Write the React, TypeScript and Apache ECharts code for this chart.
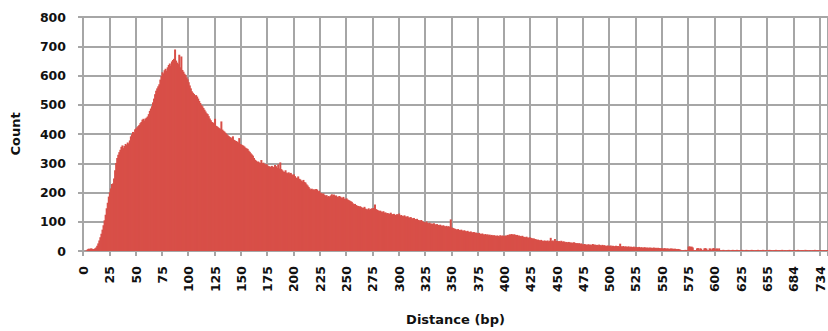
import React, { useEffect, useRef } from "react";
import * as echarts from "echarts";

// Distances 0..625 are contiguous; beyond that only observed distances appear as categories.
const contiguousMax = 625;
const tailDistances = [
  626, 627, 628, 629, 630, 632, 633, 634, 635, 636, 638, 639, 640, 641, 643, 644, 645, 647, 648, 649, 650, 652, 653, 654, 655,
  656, 657, 658, 660, 661, 662, 663, 664, 665, 667, 668, 669, 670, 671, 673, 674, 675, 676, 677, 678, 680, 681, 682, 683, 684,
  686, 688, 690, 691, 693, 695, 697, 699, 700, 702, 704, 706, 709, 711, 713, 715, 717, 720, 722, 724, 726, 728, 730, 732, 734,
  737, 741, 746, 752, 759, 768, 781,
];

const counts = [
  0, 0, 1, 2, 6, 8, 7, 9, 8, 6, 7, 9, 12, 18, 26, 36, 47, 59, 73, 88,
  105, 124, 146, 165, 186, 201, 214, 229, 231, 248, 276, 301, 318, 329, 338, 346, 356, 361, 352, 359,
  366, 362, 371, 367, 378, 392, 399, 407, 403, 416, 419, 423, 427, 431, 437, 441, 449, 452, 446, 453,
  456, 460, 468, 479, 487, 495, 508, 521, 536, 548, 556, 563, 570, 586, 598, 611, 607, 618, 623, 616,
  628, 636, 641, 633, 648, 653, 657, 689, 651, 644, 639, 671, 628, 665, 619, 613, 606, 602, 594, 587,
  577, 566, 556, 546, 541, 537, 531, 533, 528, 521, 513, 506, 499, 495, 489, 483, 477, 471, 468, 461,
  453, 447, 441, 439, 436, 452, 428, 426, 423, 420, 418, 443, 415, 411, 408, 404, 400, 396, 393, 390,
  388, 385, 392, 380, 378, 376, 374, 371, 386, 366, 364, 362, 360, 357, 353, 351, 349, 343, 339, 334,
  330, 326, 318, 312, 309, 305, 306, 303, 301, 311, 300, 302, 298, 295, 297, 292, 290, 289, 287, 291,
  288, 286, 294, 290, 284, 296, 282, 303, 280, 276, 272, 270, 276, 268, 266, 269, 265, 267, 262, 259,
  262, 256, 251, 249, 255, 247, 245, 241, 238, 243, 236, 234, 228, 224, 219, 214, 210, 213, 209, 211,
  208, 212, 210, 204, 206, 200, 198, 195, 197, 192, 189, 191, 186, 188, 185, 190, 194, 189, 193, 188,
  190, 186, 184, 188, 186, 183, 181, 185, 179, 177, 180, 176, 174, 172, 170, 168, 163, 159, 161, 157,
  155, 154, 152, 153, 150, 148, 147, 151, 145, 143, 142, 146, 141, 144, 146, 145, 147, 159, 143, 141,
  139, 137, 138, 135, 133, 136, 131, 132, 129, 130, 128, 127, 131, 126, 125, 127, 124, 123, 126, 122,
  128, 121, 123, 120, 119, 122, 118, 117, 119, 115, 114, 116, 112, 111, 113, 109, 108, 110, 106, 105,
  104, 106, 102, 100, 99, 97, 101, 96, 95, 97, 93, 94, 92, 95, 91, 90, 92, 89, 88, 90,
  87, 86, 88, 85, 84, 86, 83, 85, 82, 108, 80, 79, 77, 76, 74, 73, 75, 72, 71, 73,
  70, 69, 71, 68, 67, 69, 66, 65, 67, 64, 63, 65, 62, 63, 61, 60, 62, 59, 58, 60,
  57, 56, 58, 55, 57, 54, 56, 53, 55, 52, 54, 53, 51, 53, 52, 50, 54, 51, 53, 52,
  51, 53, 52, 55, 54, 57, 56, 58, 55, 57, 56, 54, 55, 52, 53, 51, 50, 52, 49, 48,
  47, 49, 46, 45, 47, 45, 44, 42, 43, 41, 40, 38, 39, 37, 36, 38, 35, 34, 36, 35,
  34, 36, 33, 35, 45, 34, 36, 33, 41, 34, 35, 33, 34, 32, 35, 31, 33, 32, 30, 31,
  29, 31, 30, 28, 29, 27, 30, 28, 26, 27, 25, 27, 24, 26, 23, 22, 24, 23, 21, 22,
  23, 21, 22, 20, 24, 21, 22, 20, 21, 19, 22, 20, 18, 21, 19, 20, 18, 17, 19, 18,
  17, 19, 16, 18, 17, 15, 18, 16, 17, 15, 25, 16, 15, 17, 14, 16, 15, 14, 16, 13,
  15, 14, 13, 15, 12, 14, 13, 12, 14, 11, 13, 12, 11, 13, 12, 11, 12, 10, 12, 11,
  11, 10, 12, 10, 11, 9, 11, 10, 9, 10, 9, 8, 10, 9, 8, 9, 8, 7, 9, 8,
  8, 7, 8, 7, 6, 7, 6, 5, 3, 2, 3, 2, 4, 3, 3, 15, 16, 14, 15, 12,
  3, 2, 3, 9, 10, 3, 9, 8, 2, 3, 9, 10, 8, 2, 3, 9, 8, 3, 9, 10,
  8, 3, 9, 2, 9, 3, 2, 3, 4, 3, 2, 3, 3, 4, 3, 2, 3, 4, 3, 3,
  3, 4, 3, 2, 3, 3, 4, 3, 2, 3, 4, 3, 3, 2, 3, 4, 3, 3, 2, 3,
  3, 4, 2, 3, 3, 3, 4, 2, 3, 3, 2, 3, 4, 3, 3, 2, 3, 3, 4, 3,
  2, 3, 3, 3, 4, 2, 3, 3, 2, 3, 3, 4, 3, 2, 3, 3, 3, 2, 3, 4,
  3, 2, 3, 3, 3, 2, 4, 3, 3, 2, 3, 3, 2, 3, 3, 4, 2, 3, 3, 2,
  3, 3, 2, 3, 3, 2, 3, 3,
];

const yTicks = { min: 0, max: 800, interval: 100 };

const categories: string[] = [];
for (let d = 0; d <= contiguousMax; d++) categories.push(String(d));
tailDistances.forEach((d) => categories.push(String(d)));

const FONT = "'DejaVu Sans', Verdana, sans-serif";
const GRID = "#a6a6a6";
const TEXT = "#111111";
const BAR = "#d84f48";

export default function App() {
  const ref = useRef<HTMLDivElement>(null);
  useEffect(() => {
    if (!ref.current) return;
    const chart = echarts.init(ref.current, null, { renderer: "svg" });
    chart.setOption({
      animation: false,
      backgroundColor: "#ffffff",
      grid: { left: 83, right: 0, top: 17, bottom: 80, containLabel: false },
      xAxis: {
        type: "category",
        data: categories,
        boundaryGap: true,
        name: "Distance (bp)",
        nameLocation: "middle",
        nameGap: 62,
        nameTextStyle: { fontFamily: FONT, fontWeight: "bold", fontSize: 13, color: TEXT },
        axisLine: { show: true, lineStyle: { color: GRID, width: 2 } },
        axisTick: { show: true, interval: 24, length: 5, lineStyle: { color: GRID, width: 2 } },
        axisLabel: {
          interval: 24,
          rotate: 90,
          margin: 15,
          fontFamily: FONT,
          fontWeight: "bold",
          fontSize: 12.5,
          color: TEXT,
        },
        splitLine: { show: true, interval: 24, lineStyle: { color: GRID, width: 2 } },
      },
      yAxis: {
        type: "value",
        min: yTicks.min,
        max: yTicks.max,
        interval: yTicks.interval,
        name: "Count",
        nameLocation: "middle",
        nameRotate: 90,
        nameGap: 61,
        nameTextStyle: { fontFamily: FONT, fontWeight: "bold", fontSize: 13, color: TEXT },
        axisLine: { show: true, lineStyle: { color: GRID, width: 2 } },
        axisTick: { show: true, length: 5, lineStyle: { color: GRID, width: 2 } },
        axisLabel: { margin: 17, fontFamily: FONT, fontWeight: "bold", fontSize: 12.5, color: TEXT },
        splitLine: { show: true, lineStyle: { color: GRID, width: 2 } },
      },
      series: [
        {
          type: "bar",
          data: counts,
          barWidth: 2,
          barGap: "0%",
          itemStyle: { color: BAR },
          silent: true,
        },
      ],
    });
    return () => chart.dispose();
  }, []);
  return (
    <div
      ref={ref}
      style={{ position: "fixed", left: 0, top: 0, width: 828, height: 331, background: "#fff" }}
    />
  );
}
